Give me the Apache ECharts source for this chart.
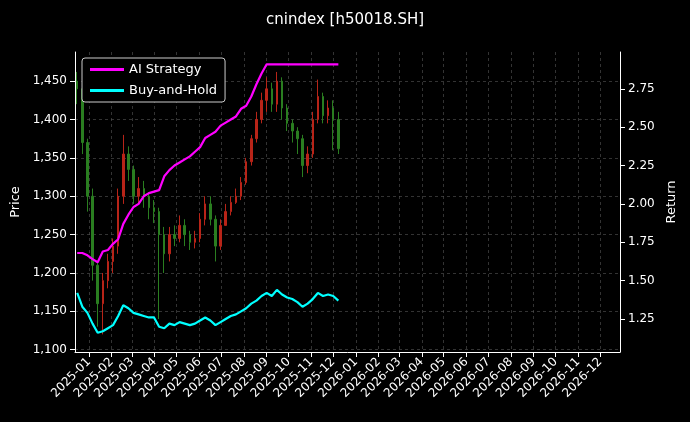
<!DOCTYPE html>
<html>
<head>
<meta charset="utf-8">
<script src="https://cdn.jsdelivr.net/npm/echarts@6/dist/echarts.min.js"></script>
<style>html,body{margin:0;background:#000}#main{width:690px;height:422px}</style>
</head>
<body>
<div id="main"></div>
<script>
// weekly samples
var dates = ['2024-12-16','2024-12-23','2024-12-30','2025-01-06','2025-01-13','2025-01-20','2025-01-27','2025-02-03','2025-02-10','2025-02-17','2025-02-24','2025-03-03','2025-03-10','2025-03-17','2025-03-24','2025-03-31','2025-04-07','2025-04-14','2025-04-21','2025-04-28','2025-05-05','2025-05-12','2025-05-19','2025-05-26','2025-06-02','2025-06-09','2025-06-16','2025-06-23','2025-06-30','2025-07-07','2025-07-14','2025-07-21','2025-07-28','2025-08-04','2025-08-11','2025-08-18','2025-08-25','2025-09-01','2025-09-08','2025-09-15','2025-09-22','2025-09-29','2025-10-06','2025-10-13','2025-10-20','2025-10-27','2025-11-03','2025-11-10','2025-11-17','2025-11-24','2025-12-01','2025-12-08'];
var opens  = [1450,1440,1370,1300,1210,1160,1190,1215,1235,1300,1355,1335,1300,1310,1300,1285,1280,1250,1225,1250,1245,1262,1250,1240,1245,1270,1290,1270,1235,1262,1280,1292,1300,1318,1345,1375,1400,1425,1440,1420,1450,1415,1395,1385,1375,1340,1355,1400,1430,1405,1415,1400];
var closes = [1440,1370,1300,1210,1160,1190,1215,1235,1300,1355,1335,1300,1310,1300,1285,1280,1250,1225,1250,1245,1262,1250,1240,1245,1270,1290,1270,1235,1262,1280,1292,1300,1318,1345,1375,1400,1425,1440,1420,1450,1415,1395,1385,1375,1340,1355,1400,1430,1405,1415,1400,1362];
var lows   = [1420,1355,1280,1190,1130,1120,1180,1200,1225,1290,1320,1290,1290,1285,1270,1265,1140,1200,1215,1235,1240,1235,1230,1232,1240,1262,1262,1215,1230,1262,1275,1290,1295,1315,1340,1370,1395,1410,1410,1410,1400,1385,1370,1355,1325,1330,1350,1395,1395,1395,1360,1355];
var highs  = [1462,1445,1375,1310,1215,1200,1225,1245,1310,1380,1365,1340,1325,1320,1305,1295,1285,1260,1260,1262,1275,1270,1255,1255,1278,1300,1300,1275,1270,1290,1300,1310,1325,1350,1380,1410,1435,1455,1448,1462,1455,1420,1400,1390,1380,1365,1410,1452,1435,1425,1425,1410];
var aiStrategy = [1.68,1.68,1.665,1.64,1.62,1.69,1.70,1.74,1.77,1.87,1.93,1.98,2.00,2.05,2.07,2.08,2.09,2.18,2.22,2.25,2.27,2.29,2.31,2.34,2.37,2.43,2.45,2.47,2.51,2.53,2.55,2.57,2.62,2.64,2.70,2.78,2.85,2.91,2.91,2.91,2.91,2.91,2.91,2.91,2.91,2.91,2.91,2.91,2.91,2.91,2.91,2.91];
var buyHold = [1.42,1.33,1.29,1.22,1.16,1.17,1.19,1.21,1.27,1.34,1.32,1.29,1.28,1.27,1.26,1.26,1.20,1.19,1.22,1.21,1.23,1.22,1.21,1.22,1.24,1.26,1.24,1.21,1.23,1.25,1.27,1.28,1.30,1.32,1.35,1.37,1.40,1.42,1.40,1.44,1.41,1.39,1.38,1.36,1.33,1.35,1.38,1.42,1.40,1.41,1.40,1.37];
var priceTicks = [1100, 1150, 1200, 1250, 1300, 1350, 1400, 1450];
var returnTicks = [1.25, 1.5, 1.75, 2.0, 2.25, 2.5, 2.75];

var candles = dates.map(function (d, i) { return [d, opens[i], closes[i], lows[i], highs[i]]; });
var aiData = dates.map(function (d, i) { return [d, aiStrategy[i]]; });
var bhData = dates.map(function (d, i) { return [d, buyHold[i]]; });

var txt = '#ffffff';
var font = 'DejaVu Sans';
var gridLine = { show: true, lineStyle: { color: '#555', type: [3, 3], width: 0.6 } };

var myChart = echarts.init(document.getElementById('main'));
var option = {
	backgroundColor: '#000',
	animation: false,
	textStyle: { fontFamily: font },
	title: {
		text: 'cnindex [h50018.SH]', left: 'center', top: 8,
		textStyle: { color: txt, fontSize: 15, fontWeight: 'normal', fontFamily: font }
	},
	legend: {
		left: 82, top: 58, orient: 'vertical',
		backgroundColor: '#000', borderColor: '#cccccc', borderWidth: 1, borderRadius: 3,
		padding: [5, 8], itemGap: 8, itemWidth: 34, itemHeight: 3,
		textStyle: { color: txt, fontSize: 13, fontFamily: font },
		data: [{ name: 'AI Strategy', icon: 'rect' }, { name: 'Buy-and-Hold', icon: 'rect' }]
	},
	grid: { left: 75, right: 70, top: 52, bottom: 70 },
	xAxis: {
		type: 'time', min: '2024-12-13', max: '2026-12-28',
		minInterval: 28 * 864e5, maxInterval: 31 * 864e5,
		axisLine: { lineStyle: { color: '#fff' } },
		axisTick: { show: true, lineStyle: { color: '#fff' } },
		axisLabel: { color: txt, fontSize: 12, rotate: 45, formatter: '{yyyy}-{MM}', hideOverlap: false, fontFamily: font },
		splitLine: gridLine
	},
	yAxis: [{
		type: 'value', min: 1097, max: 1488,
		name: 'Price', nameLocation: 'middle', nameGap: 48,
		nameTextStyle: { color: txt, fontSize: 13, fontFamily: font },
		axisLine: { show: true, lineStyle: { color: '#fff' } },
		axisTick: { show: true, customValues: priceTicks, lineStyle: { color: '#fff' } },
		axisLabel: { color: txt, fontSize: 12, fontFamily: font, customValues: priceTicks },
		splitLine: gridLine
	}, {
		type: 'value', min: 1.035, max: 2.99,
		name: 'Return', nameLocation: 'middle', nameGap: 45,
		nameTextStyle: { color: txt, fontSize: 13, fontFamily: font },
		axisLine: { show: true, lineStyle: { color: '#fff' } },
		axisTick: { show: true, customValues: returnTicks, lineStyle: { color: '#fff' } },
		axisLabel: { color: txt, fontSize: 12, fontFamily: font, customValues: returnTicks,
			formatter: function (v) { return v.toFixed(2); } },
		splitLine: { show: false }
	}],
	series: [{
		type: 'candlestick', name: 'Price', yAxisIndex: 0, barMaxWidth: 2,
		itemStyle: { color: '#b82418', color0: '#2a7e20', borderColor: '#b82418', borderColor0: '#2a7e20', borderWidth: 1 },
		data: candles
	}, {
		type: 'line', name: 'AI Strategy', yAxisIndex: 1, showSymbol: false,
		itemStyle: { color: '#ff00ff' }, lineStyle: { color: '#ff00ff', width: 2.2 },
		data: aiData
	}, {
		type: 'line', name: 'Buy-and-Hold', yAxisIndex: 1, showSymbol: false,
		itemStyle: { color: '#00ffff' }, lineStyle: { color: '#00ffff', width: 2.2 },
		data: bhData
	}]
};
myChart.setOption(option);
</script>
</body>
</html>
